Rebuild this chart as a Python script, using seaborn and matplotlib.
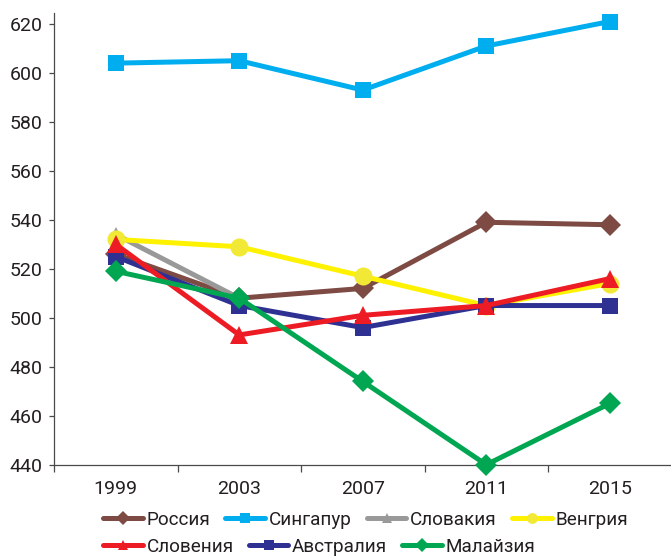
import matplotlib
matplotlib.use("Agg")
import numpy as np
import matplotlib.pyplot as plt
import seaborn as sns
from matplotlib.ticker import FixedLocator

# Survey years and mean scores per country
years = ["1999", "2003", "2007", "2011", "2015"]
russia = [526, 508, 512, 539, 538]
singapore = [604, 605, 593, 611, 621]
slovakia = [534, 508, np.nan, np.nan, np.nan]
hungary = [532, 529, 517, 505, 514]
slovenia = [530, 493, 501, 505, 516]
australia = [525, 505, 496, 505, 505]
malaysia = [519, 508, 474, 440, 465]

names = ["Россия", "Сингапур", "Словакия", "Венгрия",
         "Словения", "Австралия", "Малайзия"]

sns.set_style("ticks")
plt.rcParams["font.family"] = ["Roboto", "DejaVu Sans"]
TEXT = "#231f20"
SPINE = "#4a4a4a"

# style per series: line colour, marker, marker size, marker colour, zorder
styles = {
    "Россия":    dict(color="#7d4a44", marker="D", ms=11.5, mfc="#7d4a44", z=2),
    "Сингапур":  dict(color="#00aeef", marker="s", ms=12, mfc="#00aeef", z=2),
    "Словакия":  dict(color="#999999", marker="^", ms=12, mfc="#999999", z=2),
    "Венгрия":   dict(color="#fff200", marker="o", ms=13, mfc="#f2e836", z=3),
    "Словения":  dict(color="#ed1c24", marker="^", ms=13, mfc="#ed1c24", z=5),
    "Австралия": dict(color="#2e3192", marker="s", ms=12, mfc="#2e3192", z=4),
    "Малайзия":  dict(color="#00a651", marker="D", ms=11.5, mfc="#00a651", z=6),
}
values = dict(zip(names, [russia, singapore, slovakia, hungary,
                          slovenia, australia, malaysia]))

fig = plt.figure(figsize=(6.71, 5.56), dpi=100)
ax = fig.add_axes([54 / 671, 1 - 464.7 / 556, 617.5 / 671, (464.7 - 12.7) / 556])

pos = np.arange(len(years))
for name in names:
    st = styles[name]
    vals = np.array(values[name], dtype=float)
    ok = ~np.isnan(vals)
    sns.lineplot(x=pos[ok], y=vals[ok], ax=ax, color=st["color"],
                 linewidth=3.6, marker=st["marker"], markersize=st["ms"],
                 markerfacecolor=st["mfc"], markeredgecolor=st["mfc"],
                 markeredgewidth=0, zorder=st["z"], clip_on=False,
                 label=name, errorbar=None)

handles_all, labels_all = ax.get_legend_handles_labels()
hmap = dict(zip(labels_all, handles_all))
if ax.get_legend() is not None:
    ax.get_legend().remove()

ax.set_xlim(-0.5, len(years) - 0.5)
ax.set_ylim(440, 624.6)
ax.set_yticks(np.arange(440, 621, 20))
ax.set_xticks(pos)
ax.set_xticklabels(years)
ax.xaxis.set_minor_locator(FixedLocator(np.arange(-0.5, len(years), 1.0)))
ax.tick_params(axis="x", which="major", length=0, pad=11,
               labelsize=14, labelcolor=TEXT)
ax.tick_params(axis="x", which="minor", length=5, width=0.9, color=SPINE,
               direction="out")
ax.tick_params(axis="y", which="major", length=3.5, width=0.9, color=SPINE,
               pad=4.5, labelsize=14, labelcolor=TEXT)
ax.set_xlabel("")
ax.set_ylabel("")

sns.despine(ax=ax, top=True, right=True)
for side in ("left", "bottom"):
    ax.spines[side].set_color(SPINE)
    ax.spines[side].set_linewidth(0.9)

legend_kw = dict(frameon=False, fontsize=13.6, handlelength=2.1,
                 handletextpad=0.2, columnspacing=0.8, markerscale=0.6,
                 borderaxespad=0, borderpad=0, loc="center left",
                 labelcolor=TEXT)
row1 = names[:4]
row2 = names[4:]
fig.legend([hmap[n] for n in row1], row1, ncol=4,
           bbox_to_anchor=(103 / 671, 1 - 520 / 556), **legend_kw)
fig.legend([hmap[n] for n in row2], row2, ncol=3,
           bbox_to_anchor=(103 / 671, 1 - 547 / 556), **legend_kw)

fig.savefig("out.png", dpi=100)
